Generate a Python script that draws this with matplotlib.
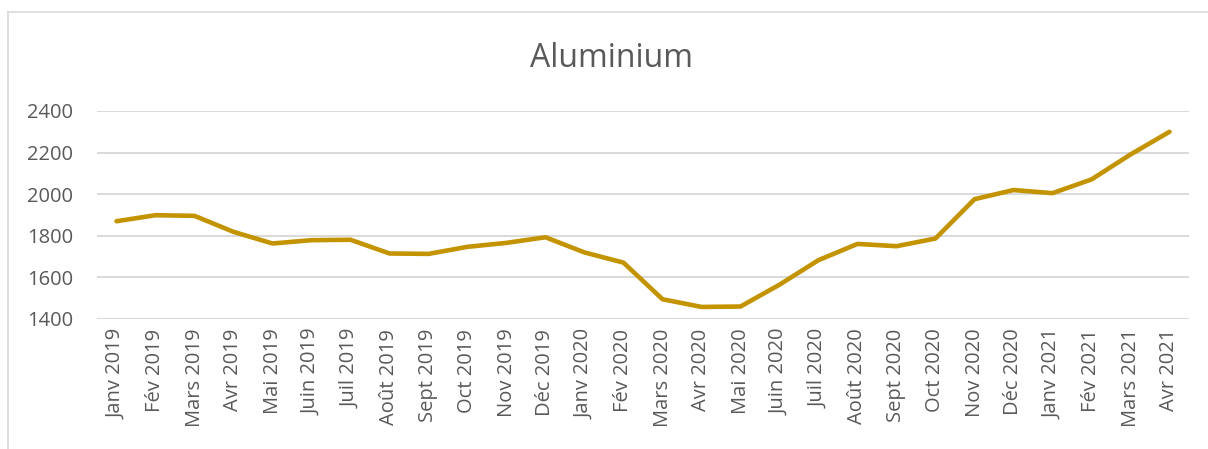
import numpy as np
import matplotlib
matplotlib.use('Agg')
import matplotlib.pyplot as plt
from matplotlib.lines import Line2D

# DATA
MONTHS = [
    'Janv 2019', 'Fév 2019', 'Mars 2019', 'Avr 2019', 'Mai 2019', 'Juin 2019',
    'Juil 2019', 'Août 2019', 'Sept 2019', 'Oct 2019', 'Nov 2019', 'Déc 2019',
    'Janv 2020', 'Fév 2020', 'Mars 2020', 'Avr 2020', 'Mai 2020', 'Juin 2020',
    'Juil 2020', 'Août 2020', 'Sept 2020', 'Oct 2020', 'Nov 2020', 'Déc 2020',
    'Janv 2021', 'Fév 2021', 'Mars 2021', 'Avr 2021',
]
PRICE = [
    1870, 1899, 1896, 1819, 1763, 1779,
    1781, 1715, 1713, 1747, 1766, 1793,
    1720, 1671, 1495, 1458, 1460, 1565,
    1683, 1761, 1750, 1787, 1976, 2020,
    2005, 2071, 2191, 2300,
]
Y_TICKS = [1400, 1600, 1800, 2000, 2200, 2400]

TXT = '#595959'
GRID = '#D9D9D9'
LINE = '#C39300'

plt.rcParams['font.family'] = ['Open Sans', 'DejaVu Sans']

fig = plt.figure(figsize=(12.08, 4.49), dpi=100)
ax = fig.add_axes([97 / 1208, 1 - 319 / 449, (1189 - 97) / 1208, (319 - 111) / 449])

x = np.arange(len(MONTHS))
ax.plot(x, PRICE, color=LINE, linewidth=3.3, solid_capstyle='round',
        solid_joinstyle='round', zorder=3)

ax.set_xlim(-0.5, len(MONTHS) - 0.5)
ax.set_ylim(1400, 2400)
ax.set_yticks(Y_TICKS)
ax.set_xticks(x)
ax.set_xticklabels(MONTHS, rotation=90, fontsize=14.5, color=TXT)
ax.set_yticklabels([str(v) for v in Y_TICKS], fontsize=14.5, color=TXT)
ax.tick_params(axis='both', length=0)
ax.tick_params(axis='y', pad=17)
ax.tick_params(axis='x', pad=7)
ax.grid(True, axis='y', color=GRID, linewidth=1.4)
ax.set_axisbelow(True)
for s in ax.spines.values():
    s.set_visible(False)

fig.text(612 / 1208, 1 - 67 / 449, 'Aluminium', fontsize=23, color=TXT,
         ha='center', va='baseline')

# chart area border (cut by the image edges on the right and bottom)
fig.add_artist(Line2D([8 / 1208, 8 / 1208], [0, 1 - 12 / 449],
                      transform=fig.transFigure, color=GRID, linewidth=1.2))
fig.add_artist(Line2D([8 / 1208, 1], [1 - 12 / 449, 1 - 12 / 449],
                      transform=fig.transFigure, color=GRID, linewidth=1.2))

fig.savefig('out.png', dpi=100)
